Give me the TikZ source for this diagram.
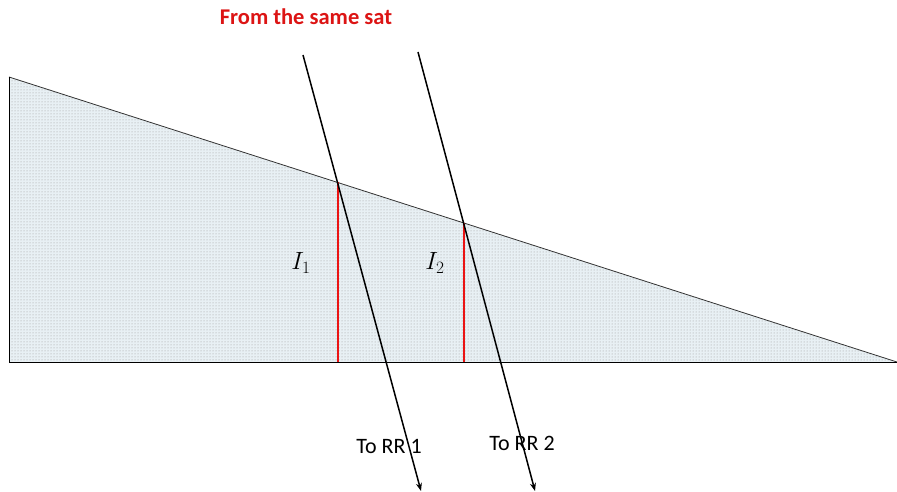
\documentclass[tikz,border=0pt]{standalone}
\usepackage{amsmath}
\usepackage{fontspec}
\setmainfont{Carlito}
\usepackage{tikz}
\usetikzlibrary{arrows.meta, patterns}
\definecolor{rossoTitolo}{RGB}{220, 20, 20}
\definecolor{rossoAltezza}{RGB}{235, 20, 20}
\definecolor{azzurroTenue}{RGB}{232, 240, 244}

\begin{document}
\begin{tikzpicture}[x=1pt, y=-1pt,
    ray/.style={black, line width=1.5pt, -{Stealth[length=8pt, width=6pt]}},
    redline/.style={draw=rossoAltezza, line width=2pt},
    lbl/.style={font=\fontsize{22}{24}\selectfont, inner sep=0pt}]
                \useasboundingbox (0,0) rectangle (897,492);

                % Triangle corners
                \coordinate (top) at (9,77);
                \coordinate (corner) at (9,362);
                \coordinate (tip) at (897,362);

                % Wedge (dotted fill)
                \fill[azzurroTenue] (top) -- (corner) -- (tip) -- cycle;
                \fill[pattern=dots, pattern color=gray!80] (top) -- (corner) -- (tip) -- cycle;
                \draw[black!80, line width=0.8pt] (top) -- (tip);
                \draw[black, line width=1pt] (top) -- (corner) -- (tip);

                % Rays
                \coordinate (src1) at (303,55);
                \coordinate (dst1) at (421,491);
                \coordinate (src2) at (418,52);
                \coordinate (dst2) at (535,491);
                \coordinate (hit1) at (intersection of src1--dst1 and top--tip);
                \coordinate (hit2) at (intersection of src2--dst2 and top--tip);
                \coordinate (foot1) at (hit1 |- corner);
                \coordinate (foot2) at (hit2 |- corner);

                % Heights (red)
                \draw[redline] (hit1) -- (foot1);
                \draw[redline] (hit2) -- (foot2);

                \draw[ray] (src1) -- (dst1);
                \draw[ray] (src2) -- (dst2);

                % Labels
                \node[font=\bfseries\fontsize{22.5}{24}\selectfont, text=rossoTitolo] (title) at (306,17) {From the same sat};
                \node[lbl, font=\fontsize{27}{29}\selectfont] (i1) at (301,263) {$I_1$};
                \node[lbl, font=\fontsize{27}{29}\selectfont] (i2) at (435,263) {$I_2$};
                \node[lbl] (rr1) at (389,446) {To RR 1};
                \node[lbl] (rr2) at (522,443) {To RR 2};
            \end{tikzpicture}
\end{document}
